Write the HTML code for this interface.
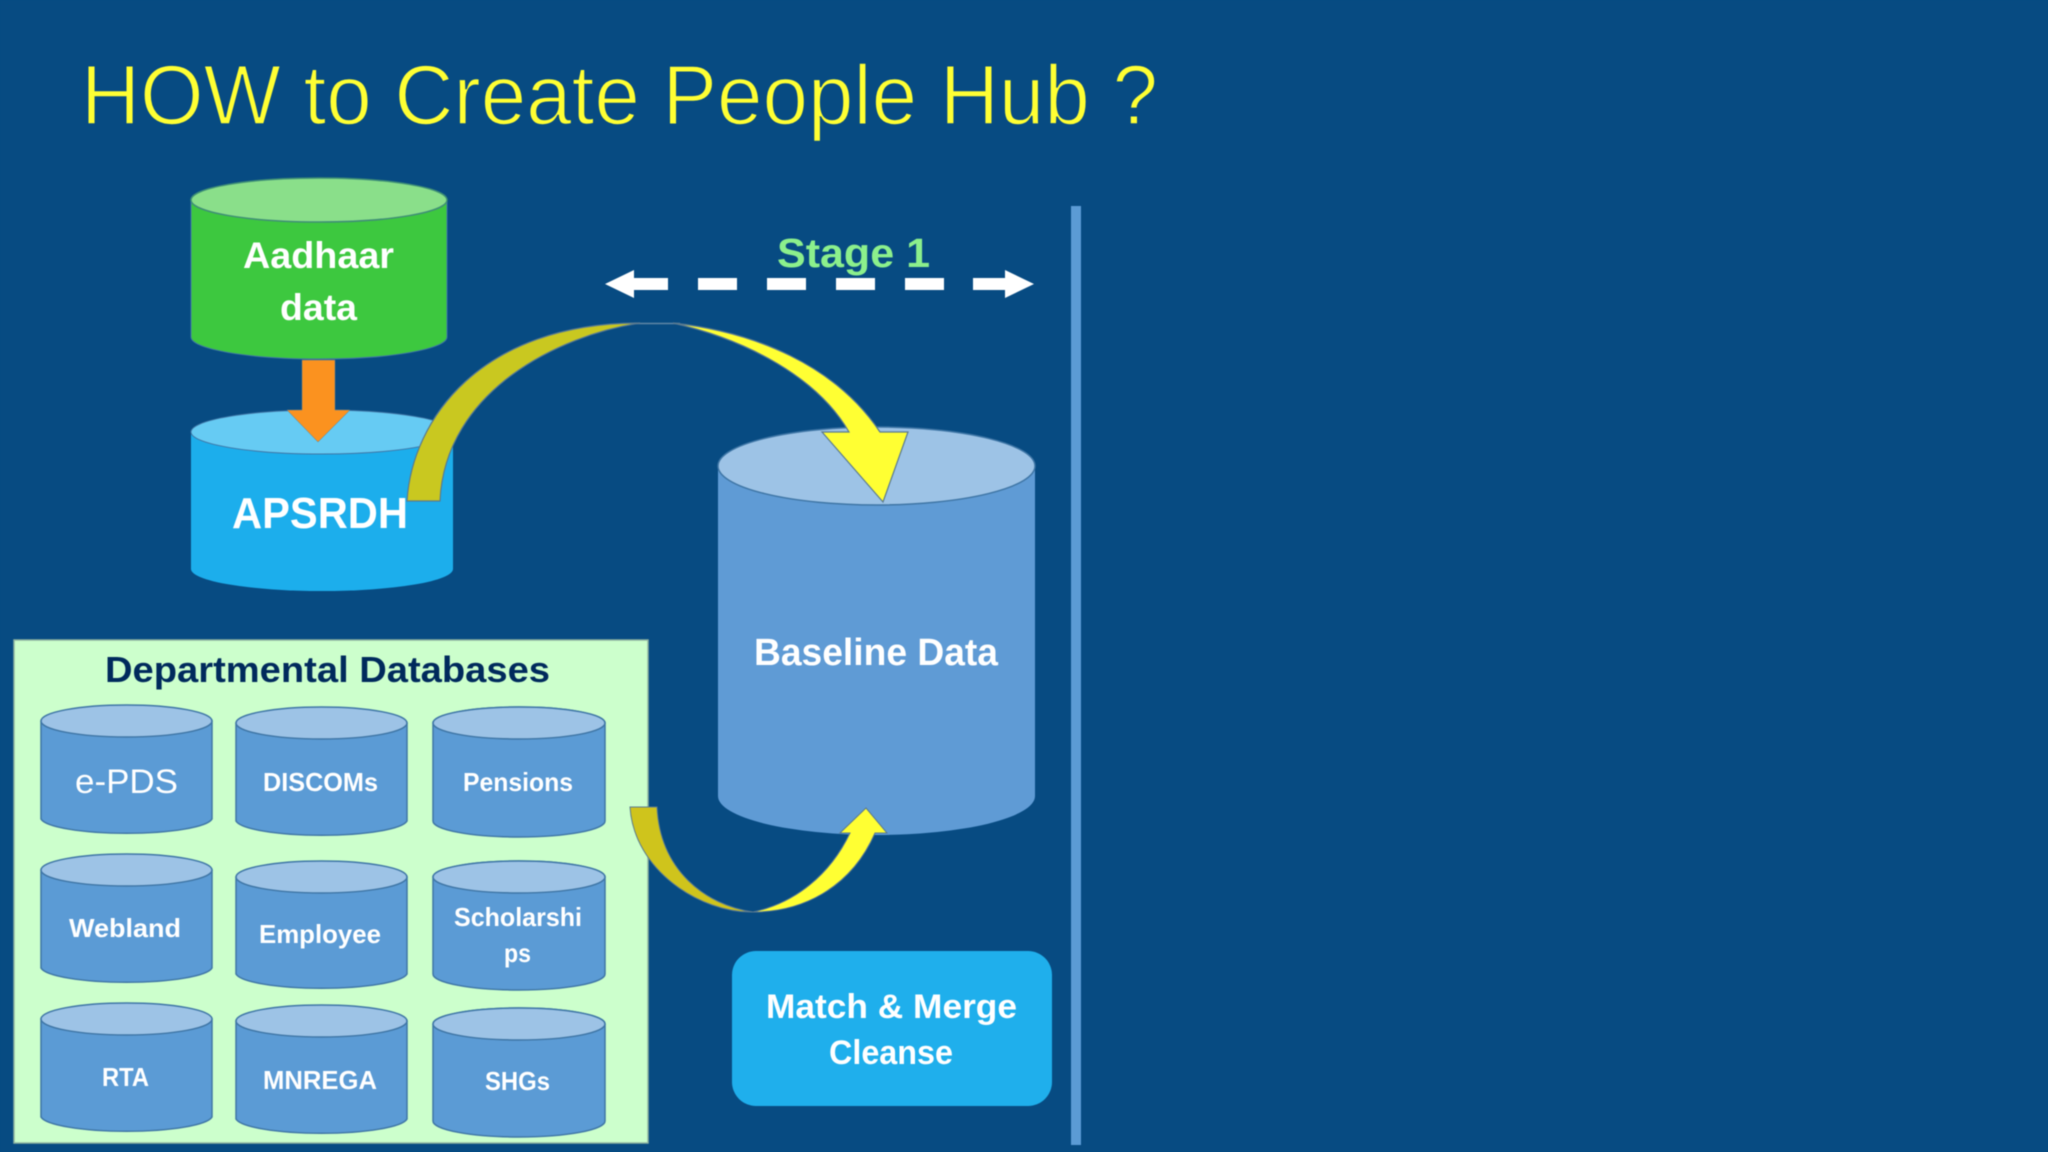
<!DOCTYPE html>
<html>
<head>
<meta charset="utf-8">
<style>
html,body{margin:0;padding:0;background:#074b82;width:2048px;height:1152px;overflow:hidden}
svg{display:block;filter:blur(.5px)}
text{font-family:"Liberation Sans",sans-serif;fill:#fff;font-weight:bold}
.c{fill:#5b9bd5;stroke:#3f76a6;stroke-width:1.5}
.t{fill:#9dc3e6;stroke:#3f76a6;stroke-width:1.5}
</style>
</head>
<body>
<svg width="2048" height="1152" viewBox="0 0 2048 1152" xmlns="http://www.w3.org/2000/svg">
<rect width="2048" height="1152" fill="#074b82"/>
<text x="81" y="124" font-size="84" style="font-weight:normal;fill:#ffff33;stroke:#074b82;stroke-width:1.6;paint-order:fill stroke" textLength="1077" lengthAdjust="spacingAndGlyphs">HOW to Create People Hub ?</text>

<!-- vertical line -->
<rect x="1071" y="206" width="10" height="939" fill="#5b9bd5"/>

<!-- Aadhaar -->
<path d="M191,200 A128,22 0 0 1 447,200 V337 A128,22 0 0 1 191,337 Z" fill="#3dc83f" stroke="#3f76a6" stroke-width="1"/>
<ellipse cx="319" cy="200" rx="128" ry="22" fill="#8adf8a" stroke="#3f8f76" stroke-width="1.5"/>
<text x="243" y="268" font-size="37" textLength="151" lengthAdjust="spacingAndGlyphs">Aadhaar</text>
<text x="280" y="320" font-size="37" textLength="77" lengthAdjust="spacingAndGlyphs">data</text>

<!-- APSRDH -->
<path d="M191,432 A131,22 0 0 1 453,432 V569 A131,22 0 0 1 191,569 Z" fill="#1caeec"/>
<ellipse cx="322" cy="432" rx="131" ry="22" fill="#66cbf3" stroke="#3f76a6" stroke-width="1"/>
<text x="232" y="528" font-size="44" textLength="176" lengthAdjust="spacingAndGlyphs">APSRDH</text>

<!-- orange arrow -->
<path d="M302,360 H335 V410 H350 L318,442 L287,410 H302 Z" fill="#fb921f" stroke="#5a7a90" stroke-width=".5"/>

<!-- Baseline -->
<path d="M718,466 A158.500,39 0 0 1 1035,466 V796 A158.500,39 0 0 1 718,796 Z" fill="#5f9bd5"/>
<ellipse cx="876.500" cy="466" rx="158.500" ry="39" fill="#9dc3e6" stroke="#3f76a6" stroke-width="1.500"/>
<text x="754" y="665" font-size="38" textLength="244" lengthAdjust="spacingAndGlyphs">Baseline Data</text>

<!-- big curved arrow -->
<path d="M630,323.500 H680" fill="none" stroke="#5f86a5" stroke-width="1.500"/>
<path d="M407,501 C412,420 480,323 640,323 C560,335 445,390 440,501 Z" fill="#c9c820" stroke="#5a7a90" stroke-width="1.200"/>
<path d="M673,323 C755,332 835,365 880,432 H908 L883,502 L822,432 H849 C818,378 748,340 673,323 Z" fill="#ffff33" stroke="#5a7a90" stroke-width="1.200"/>

<!-- stage -->
<text x="777" y="267" font-size="41" style="fill:#8cf08c" textLength="153" lengthAdjust="spacingAndGlyphs">Stage 1</text>
<path d="M605,284 L634,270 V278 H668 V290 H634 V298 Z" fill="#fff"/>
<rect x="698" y="278" width="39" height="12" fill="#fff"/>
<rect x="767" y="278" width="39" height="12" fill="#fff"/>
<rect x="836" y="278" width="39" height="12" fill="#fff"/>
<rect x="905" y="278" width="39" height="12" fill="#fff"/>
<path d="M973,278 H1005 V270 L1034,284 L1005,298 V290 H973 Z" fill="#fff"/>

<!-- Departmental box -->
<rect x="14" y="640" width="634" height="503" fill="#ccffcc" stroke="#8fb3a0" stroke-width="1.500"/>
<text x="105" y="682" font-size="36" style="fill:#002a5c" textLength="445" lengthAdjust="spacingAndGlyphs">Departmental Databases</text>

<!-- row 1 -->
<path class="c" d="M41,721 A86,16 0 0 1 212,721 V819 A86,16 0 0 1 41,819 Z"/><ellipse class="t" cx="126.500" cy="721" rx="85.500" ry="16"/>
<path class="c" d="M236,723 A86,16 0 0 1 407,723 V821 A86,16 0 0 1 236,821 Z"/><ellipse class="t" cx="321.500" cy="723" rx="85.500" ry="16"/>
<path class="c" d="M433,723 A86,16 0 0 1 605,723 V821 A86,16 0 0 1 433,821 Z"/><ellipse class="t" cx="519" cy="723" rx="86" ry="16"/>
<!-- row 2 -->
<path class="c" d="M41,870 A86,16 0 0 1 212,870 V968 A86,16 0 0 1 41,968 Z"/><ellipse class="t" cx="126.500" cy="870" rx="85.500" ry="16"/>
<path class="c" d="M236,877 A86,16 0 0 1 407,877 V974 A86,16 0 0 1 236,974 Z"/><ellipse class="t" cx="321.500" cy="877" rx="85.500" ry="16"/>
<path class="c" d="M433,877 A86,16 0 0 1 605,877 V974 A86,16 0 0 1 433,974 Z"/><ellipse class="t" cx="519" cy="877" rx="86" ry="16"/>
<!-- row 3 -->
<path class="c" d="M41,1019 A86,16 0 0 1 212,1019 V1117 A86,16 0 0 1 41,1117 Z"/><ellipse class="t" cx="126.500" cy="1019" rx="85.500" ry="16"/>
<path class="c" d="M236,1021 A86,16 0 0 1 407,1021 V1119 A86,16 0 0 1 236,1119 Z"/><ellipse class="t" cx="321.500" cy="1021" rx="85.500" ry="16"/>
<path class="c" d="M433,1024 A86,16 0 0 1 605,1024 V1121 A86,16 0 0 1 433,1121 Z"/><ellipse class="t" cx="519" cy="1024" rx="86" ry="16"/>

<text x="75" y="793" font-size="34" style="font-weight:normal" textLength="103" lengthAdjust="spacingAndGlyphs">e-PDS</text>
<text x="263" y="791" font-size="26" textLength="115" lengthAdjust="spacingAndGlyphs">DISCOMs</text>
<text x="463" y="791" font-size="26" textLength="110" lengthAdjust="spacingAndGlyphs">Pensions</text>
<text x="69" y="937" font-size="26" textLength="112" lengthAdjust="spacingAndGlyphs">Webland</text>
<text x="259" y="943" font-size="26" textLength="122" lengthAdjust="spacingAndGlyphs">Employee</text>
<text x="454" y="926" font-size="26" textLength="128" lengthAdjust="spacingAndGlyphs">Scholarshi</text>
<text x="504" y="962" font-size="26" textLength="27" lengthAdjust="spacingAndGlyphs">ps</text>
<text x="102" y="1086" font-size="26" textLength="47" lengthAdjust="spacingAndGlyphs">RTA</text>
<text x="263" y="1089" font-size="26" textLength="114" lengthAdjust="spacingAndGlyphs">MNREGA</text>
<text x="485" y="1090" font-size="26" textLength="65" lengthAdjust="spacingAndGlyphs">SHGs</text>

<!-- small curved arrow -->
<path d="M630,807 H657 C660,870 705,905 753,912 C700,913 634,870 630,807 Z" fill="#cfc41c" stroke="#5a7a90" stroke-width="1"/>
<path d="M753,912 C800,912 850,890 875,833 H887 L866,808 L840,833 H850 C830,875 795,903 753,912 Z" fill="#ffff33" stroke="#5a7a90" stroke-width="1"/>

<!-- match box -->
<rect x="732" y="951" width="320" height="155" rx="24" ry="24" fill="#1fafec"/>
<text x="766" y="1018" font-size="34" textLength="251" lengthAdjust="spacingAndGlyphs">Match &amp; Merge</text>
<text x="829" y="1064" font-size="34" textLength="124" lengthAdjust="spacingAndGlyphs">Cleanse</text>
</svg>
</body>
</html>
